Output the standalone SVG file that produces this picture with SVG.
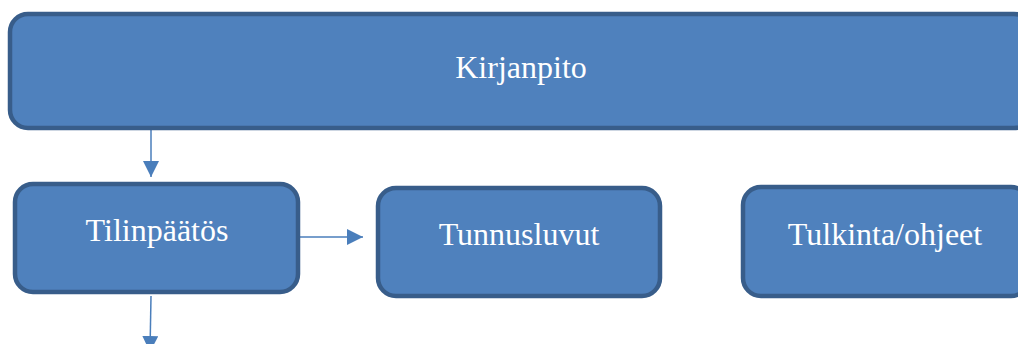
<svg xmlns="http://www.w3.org/2000/svg" width="1018" height="344" viewBox="0 0 1018 344">
<style>
.box{fill:#4F81BD;stroke:#385D8A;stroke-width:4.5}
.lbl{font-family:"Liberation Serif","Times New Roman",serif;font-size:32px;fill:#FFFFFF;text-anchor:middle}
.con{stroke:#4A7EBB;stroke-width:1.5;fill:none}
</style>
<defs>
<marker id="ah" viewBox="0 0 10 10" refX="10" refY="5" markerWidth="16" markerHeight="16" markerUnits="userSpaceOnUse" orient="auto">
<path d="M0,0 L10,5 L0,10 z" fill="#4A7EBB"/>
</marker>
</defs>
<g id="connectors">
<line class="con" x1="151" y1="130" x2="151" y2="177" marker-end="url(#ah)"/>
<line class="con" x1="300" y1="237" x2="363" y2="237" marker-end="url(#ah)"/>
<line class="con" x1="151" y1="296" x2="150" y2="352" marker-end="url(#ah)"/>
</g>
<g id="kirjanpito">
<rect class="box" x="10" y="14" width="1022" height="114" rx="18"/>
<text class="lbl" x="521" y="78">Kirjanpito</text>
</g>
<g id="tilinpaatos">
<rect class="box" x="15" y="184" width="283" height="108" rx="18"/>
<text class="lbl" x="157" y="241">Tilinpäätös</text>
</g>
<g id="tunnusluvut">
<rect class="box" x="378" y="188" width="282" height="108" rx="18"/>
<text class="lbl" x="519" y="245">Tunnusluvut</text>
</g>
<g id="tulkinta">
<rect class="box" x="743" y="187" width="286" height="109" rx="18"/>
<text class="lbl" x="885" y="245">Tulkinta/ohjeet</text>
</g>
</svg>
